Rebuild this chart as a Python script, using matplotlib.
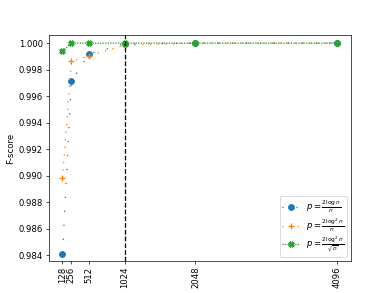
import matplotlib; matplotlib.use("Agg")
import matplotlib.pyplot as plt

N = [128, 256, 512, 1024, 2048, 4096]
F_LOG = [0.98412, 0.99713, 0.99918, 0.99995, 1.0, 1.0]
F_LOG2 = [0.98981, 0.99862, 0.99906, 0.99985, 1.0, 1.0]
F_SQRT = [0.99940, 1.0, 1.0, 1.0, 1.0, 1.0]
LABELS = [r"$p=\frac{2\log n}{n}$", r"$p=\frac{2\log^2 n}{n}$", r"$p=\frac{2\log^2 n}{\sqrt{n}}$"]

fig, ax = plt.subplots(figsize=(390 / 61, 293 / 61), dpi=61)
ax.plot(N, F_LOG, marker="o", ms=7, ls=(0, (1, 10)), color="#1f77b4", label=LABELS[0])
ax.plot(N, F_LOG2, marker="+", ms=8, mew=1.5, ls=(0, (1, 5)), color="#ff7f0e", label=LABELS[1])
ax.plot(N, F_SQRT, marker="X", ms=7, ls=(0, (1, 1)), color="#2ca02c", label=LABELS[2])
ax.axvline(1024, color="k", ls="--")
ax.set_xticks(N)
ax.set_xticklabels([str(n) for n in N], rotation=90)
ax.set_ylim(0.9836, 1.0006)
ax.set_xlabel("n"); ax.set_ylabel("F-score")
ax.legend(loc="lower right", labelspacing=0.15, borderpad=0.3)
fig.savefig("out.png", dpi=61)
